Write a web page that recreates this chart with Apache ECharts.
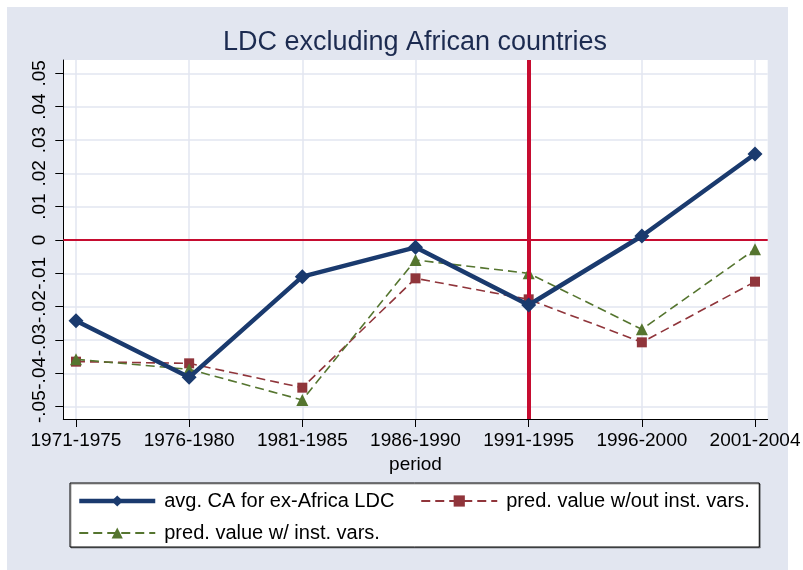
<!DOCTYPE html>
<html>
<head>
<meta charset="utf-8">
<title>LDC excluding African countries</title>
<script src="https://cdn.jsdelivr.net/npm/echarts@6/dist/echarts.min.js"></script>
<style>
  html, body { margin: 0; padding: 0; background: #fff; }
  #chart { width: 803px; height: 570px; }
</style>
</head>
<body>
<div id="chart"></div>
<script>
  // periods on the x axis
  const periods = ['1971-1975', '1976-1980', '1981-1985', '1986-1990', '1991-1995', '1996-2000', '2001-2004'];
  // avg. CA for ex-Africa LDC
  const avgCA = [-0.0242, -0.0412, -0.0110, -0.0022, -0.0195, 0.0012, 0.0258];
  // pred. value w/out inst. vars.
  const predNoInst = [-0.0365, -0.0370, -0.0443, -0.0115, -0.0178, -0.0307, -0.0125];
  // pred. value w/ inst. vars.
  const predInst = [-0.0358, -0.0388, -0.0480, -0.0060, -0.0100, -0.0268, -0.0028];
  // y tick values
  const yTicks = [-0.05, -0.04, -0.03, -0.02, -0.01, 0, 0.01, 0.02, 0.03, 0.04, 0.05];
  const xTicks = [0, 1, 2, 3, 4, 5, 6];
  const markX = 4;   // 1991-1995
  const markY = 0;

  const font = "'Liberation Sans', Arial, sans-serif";
  const bg = '#e2e6f0';

  function fmtY(v) {
    if (Math.abs(v) < 1e-9) return '0';
    return (v < 0 ? '-' : '') + Math.abs(v).toFixed(2).replace(/^0/, '');
  }
  const pairs = arr => arr.map((v, i) => [i, v]);

  const chart = echarts.init(document.getElementById('chart'));
  chart.setOption({
    backgroundColor: '#fff',
    animation: false,
    // graph region (light bluish panel)
    graphic: [{
      type: 'rect', z: -100, silent: true,
      shape: { x: 7, y: 7, width: 781, height: 563 },
      style: { fill: bg }
    }],
    title: {
      text: 'LDC excluding African countries',
      left: 415,
      top: 29,
      padding: 0,
      textAlign: 'center',
      textStyle: { fontFamily: font, fontSize: 27, fontWeight: 'normal', color: '#1c2b50' }
    },
    grid: {
      left: 63.3, top: 60, right: 35.3, bottom: 151,
      outerBoundsMode: 'none',
      show: true, backgroundColor: '#fff', borderWidth: 0
    },
    xAxis: {
      type: 'value',
      min: -0.112, max: 6.112,
      name: 'period',
      nameLocation: 'middle',
      nameGap: 32,
      nameTextStyle: { fontFamily: font, fontSize: 19, color: '#000' },
      axisLine: { onZero: false, lineStyle: { color: '#000', width: 1 } },
      axisTick: { show: true, length: 8, customValues: xTicks, lineStyle: { color: '#000' } },
      axisLabel: {
        customValues: xTicks, margin: 12,
        fontFamily: font, fontSize: 19, color: '#000',
        formatter: v => periods[Math.round(v)]
      },
      splitLine: { show: true, lineStyle: { color: bg, width: 1.5 } }
    },
    yAxis: {
      type: 'value',
      min: -0.0537, max: 0.054,
      axisLine: { show: true, onZero: false, lineStyle: { color: '#000', width: 1 } },
      axisTick: { show: true, length: 8, customValues: yTicks, lineStyle: { color: '#000' } },
      axisLabel: {
        customValues: yTicks, rotate: 90, margin: 14,
        fontFamily: font, fontSize: 19, color: '#000',
        formatter: fmtY
      },
      splitLine: { show: true, lineStyle: { color: bg, width: 1.5 } }
    },
    legend: {
      data: [
        { name: 'avg. CA for ex-Africa LDC', lineStyle: { width: 4.5 } },
        'pred. value w/out inst. vars.',
        'pred. value w/ inst. vars.'
      ],
      left: 70, top: 483, width: 690,
      orient: 'horizontal',
      itemWidth: 76, itemHeight: 14, itemGap: 6,
      padding: [5, 3, 1, 7],
      backgroundColor: '#fff',
      borderColor: '#000', borderWidth: 1,
      shadowColor: 'rgba(0,0,0,0.35)', shadowOffsetX: 1, shadowOffsetY: 1, shadowBlur: 0,
      textStyle: { fontFamily: font, fontSize: 20, color: '#000', lineHeight: 26, width: 250, padding: [0, 0, 0, 4] }
    },
    series: [
      {
        type: 'line', name: 'refs', data: [], z: 1, silent: true,
        markLine: {
          silent: true, symbol: 'none', label: { show: false },
          data: [
            { xAxis: markX, lineStyle: { color: '#c60c30', width: 4, type: 'solid' } },
            { yAxis: markY, lineStyle: { color: '#c60c30', width: 1.8, type: 'solid' } }
          ]
        }
      },
      {
        type: 'line', name: 'pred. value w/out inst. vars.', data: pairs(predNoInst), z: 3,
        symbol: 'rect', symbolSize: 10,
        itemStyle: { color: '#90353b' },
        lineStyle: { color: '#90353b', width: 1.6, type: [9, 5] }
      },
      {
        type: 'line', name: 'pred. value w/ inst. vars.', data: pairs(predInst), z: 4,
        symbol: 'triangle', symbolSize: 12,
        itemStyle: { color: '#55752f' },
        lineStyle: { color: '#55752f', width: 1.6, type: [9, 5] }
      },
      {
        type: 'line', name: 'avg. CA for ex-Africa LDC', data: pairs(avgCA), z: 5,
        symbol: 'diamond', symbolSize: 15,
        itemStyle: { color: '#1a3a6e' },
        lineStyle: { color: '#1a3a6e', width: 4.5 }
      }
    ]
  });
</script>
</body>
</html>
